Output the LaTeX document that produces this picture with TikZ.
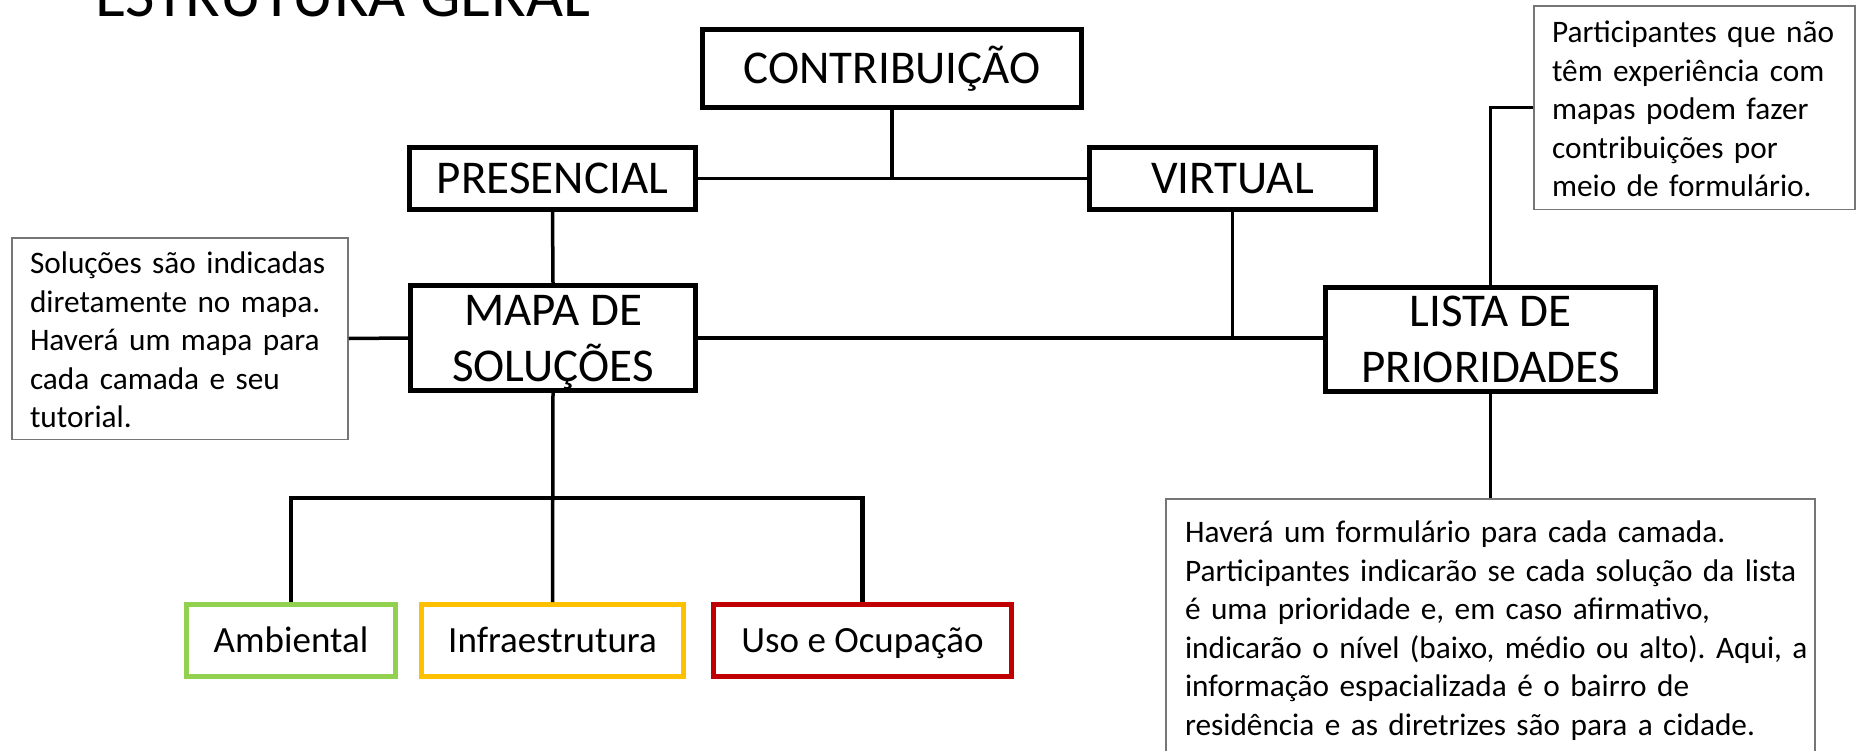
\documentclass[tikz,border=0pt]{standalone}
\usepackage{fontspec}
\setmainfont{Carlito}
\frenchspacing
\definecolor{cgreen}{HTML}{92D050}
\definecolor{camber}{HTML}{FFC000}
\definecolor{cred}{HTML}{C00000}
\definecolor{notegray}{HTML}{767676}
\tikzset{
  bigbox/.style={draw=black, line width=5pt, fill=white, inner sep=0pt, align=center,
    font=\fontsize{47}{56}\selectfont},
  oneline/.style={text height=38pt, text depth=8pt},
  twoline/.style={text height=94pt, text depth=8pt},
  catbox/.style={draw=#1, line width=5pt, fill=white, inner sep=0pt, align=center,
    font=\fontsize{37}{44}\selectfont, text height=30pt, text depth=6.5pt},
  notebox/.style={draw=notegray, line width=1.5pt, fill=white, inner xsep=18pt, inner ysep=0pt,
    align=left, font=\fontsize{31.3}{38.5}\selectfont},
  link/.style={line width=3.5pt, black},
  buslink/.style={line width=4.5pt, black}
}
\begin{document}
\begin{tikzpicture}[x=1pt,y=-1pt]
\useasboundingbox (0,0) rectangle (1858,750);
\clip (0,0) rectangle (1858,750);
\fill[white] (0,0) rectangle (1858,750);

\node[anchor=base west, inner sep=0pt, font=\fontsize{64}{70}\selectfont] (title) at (95,16) {ESTRUTURA GERAL};

\node[bigbox, oneline, minimum width=379pt, minimum height=78pt] (contrib) at (892,68.5) {CONTRIBUIÇÃO};
\node[bigbox, oneline, minimum width=286pt, minimum height=62pt] (pres) at (552.5,178.5) {PRESENCIAL};
\node[bigbox, oneline, minimum width=286pt, minimum height=62pt] (virt) at (1232.5,178.5) {VIRTUAL};
\node[bigbox, twoline, minimum width=285pt, minimum height=105pt] (mapa) at (553,338) {MAPA DE\\SOLUÇÕES};
\node[bigbox, twoline, minimum width=330pt, minimum height=104pt] (lista) at (1490.5,339.5) {LISTA DE\\PRIORIDADES};

\node[catbox=cgreen, minimum width=209pt, minimum height=72pt] (amb) at (291,640.5) {Ambiental};
\node[catbox=camber, minimum width=262pt, minimum height=72pt] (infra) at (552.5,640.5) {Infraestrutura};
\node[catbox=cred, minimum width=298pt, minimum height=72pt] (uso) at (862.5,640.5) {Uso e Ocupação};

\node[notebox, text width=300pt, minimum height=201.5pt, text height=32pt, text depth=162pt] (noteL) at (180,338.5)
  {\mbox{Soluções são indicadas}\\\mbox{diretamente no mapa.}\\\mbox{Haverá um mapa para}\\\mbox{cada camada e seu}\\\mbox{tutorial.}};
\node[notebox, text width=285pt, minimum height=203.5pt, text height=32pt, text depth=162pt] (noteTR) at (1694.5,107.5)
  {\mbox{Participantes que não}\\\mbox{têm experiência com}\\\mbox{mapas podem fazer}\\\mbox{contribuições por}\\\mbox{meio de formulário.}};
\node[notebox, inner xsep=19pt, text width=611pt, minimum height=258.5pt, text height=30pt, text depth=200.5pt] (noteBR) at (1490.5,628)
  {\mbox{Haverá um formulário para cada camada.}\\\mbox{Participantes indicarão se cada solução da lista}\\\mbox{é uma prioridade e, em caso afirmativo,}\\\mbox{indicarão o nível (baixo, médio ou alto). Aqui, a}\\\mbox{informação espacializada é o bairro de}\\\mbox{residência e as diretrizes são para a cidade.}};

\coordinate (bus) at (553,498);

\draw[link] (contrib.south) -- (contrib.south |- pres.east);
\draw[link] (pres.east) -- (virt.west);
\draw[link] (pres.south) -- (mapa.north);
\draw[link] (noteL.east) -- (mapa.west);
\draw[link] (mapa.east) -- (mapa.east -| lista.west);
\draw[link] (virt.south) -- (virt.south |- mapa.east);
\draw[link] (noteTR.west) -| (lista.north);
\draw[link] (lista.south) -- (noteBR.north);
\draw[link] (mapa.south) -- (infra.north);
\draw[buslink] (amb.north) |- (bus) -| (uso.north);
\end{tikzpicture}
\end{document}
